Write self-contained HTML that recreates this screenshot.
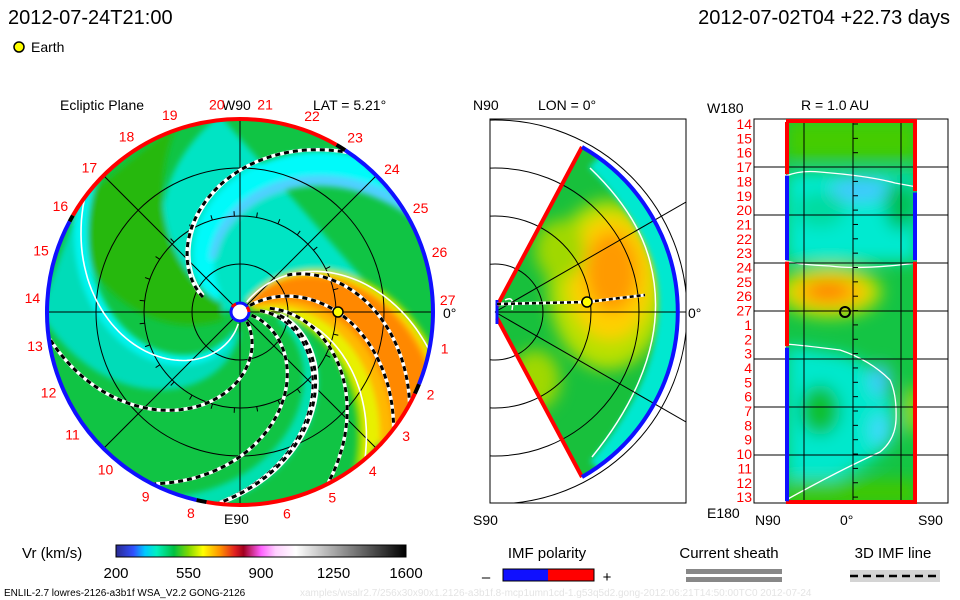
<!DOCTYPE html>
<html><head><meta charset="utf-8"><style>
html,body{margin:0;padding:0;background:#fff;}
svg{display:block;font-family:"Liberation Sans",sans-serif;}
</style></head><body>
<svg id="c" width="960" height="600" viewBox="0 0 960 600" xmlns="http://www.w3.org/2000/svg">
<defs>
 <filter id="bl" x="-20%" y="-20%" width="140%" height="140%"><feGaussianBlur stdDeviation="3"/></filter>
 <filter id="bl2" x="-50%" y="-50%" width="200%" height="200%"><feGaussianBlur stdDeviation="8"/></filter>
 <clipPath id="disc"><circle cx="240" cy="312" r="193"/></clipPath>
 <clipPath id="sector"><path d="M497,306 L582,147 A190,190 0 0 1 582,477 L497,318 Z"/></clipPath>
 <clipPath id="rbox"><rect x="786" y="122" width="131" height="381"/></clipPath>
 <clipPath id="mbox"><rect x="490" y="119" width="196" height="384"/></clipPath>
 <linearGradient id="cbar" x1="0" x2="1" y1="0" y2="0">
  <stop offset="0" stop-color="#2a2a90"/><stop offset="0.06" stop-color="#3050ff"/>
  <stop offset="0.1" stop-color="#00c8ff"/><stop offset="0.14" stop-color="#00f0c0"/>
  <stop offset="0.2" stop-color="#00c040"/><stop offset="0.25" stop-color="#80d800"/>
  <stop offset="0.3" stop-color="#ffff00"/><stop offset="0.36" stop-color="#ff9000"/>
  <stop offset="0.41" stop-color="#e02020"/><stop offset="0.44" stop-color="#a00020"/>
  <stop offset="0.5" stop-color="#ff60ff"/><stop offset="0.55" stop-color="#ffd0ff"/>
  <stop offset="0.62" stop-color="#ffffff"/><stop offset="1" stop-color="#000000"/>
 </linearGradient>
</defs>

<text x="8" y="24" font-size="20">2012-07-24T21:00</text>
<text x="950" y="24" font-size="20" text-anchor="end">2012-07-02T04 +22.73 days</text>
<circle cx="19" cy="47" r="5" fill="#ffff00" stroke="#000" stroke-width="1.5"/>
<text x="31" y="52" font-size="14">Earth</text>

<g id="left">
 <text x="60" y="110" font-size="14">Ecliptic Plane</text>
 <text x="313" y="110" font-size="14">LAT = 5.21°</text>
 <text x="222" y="110" font-size="14">W90</text>
 <text x="224" y="524" font-size="14">E90</text>
 <text x="443" y="318" font-size="14">0°</text>
 <g clip-path="url(#disc)">
  <circle cx="240" cy="312" r="193" fill="#10c444"/>
  <g id="bands" filter="url(#bl)"></g>
 </g>
 <g id="leftgrid" stroke="#000" stroke-width="1" fill="none"></g>
 <g id="leftlines"></g>
 <g id="ring"></g>
 <g id="leftlabels" font-size="14" fill="#ff0000" text-anchor="middle"></g>
 <circle cx="240" cy="312" r="9" fill="#fff" stroke="#1010ff" stroke-width="3"/>
 <path d="M232,307 A9,9 0 0 1 236,304" stroke="#f00" stroke-width="3" fill="none"/>
 <path d="M247,307 A9,9 0 0 1 249,312" stroke="#f00" stroke-width="3" fill="none"/>
 <circle cx="338" cy="312" r="5" fill="#ffff00" stroke="#000" stroke-width="1.5"/>
</g>

<g id="mid">
 <text x="473" y="110" font-size="14">N90</text>
 <text x="538" y="110" font-size="14">LON = 0°</text>
 <text x="473" y="525" font-size="14">S90</text>
 <text x="688" y="318" font-size="14">0°</text>
 <g clip-path="url(#sector)">
  <rect x="490" y="119" width="200" height="384" fill="#18c03c"/>
  <g filter="url(#bl2)">
   <ellipse cx="608" cy="285" rx="60" ry="85" fill="#b8e000"/>
   <ellipse cx="610" cy="278" rx="42" ry="62" fill="#ffd000"/>
   <ellipse cx="612" cy="272" rx="26" ry="40" fill="#ff9a00"/>
   <ellipse cx="560" cy="250" rx="25" ry="30" fill="#a0d800"/>
   <ellipse cx="535" cy="380" rx="25" ry="30" fill="#a0d800"/>
  </g>
 </g>
 <g clip-path="url(#sector)" fill="none">
  <g filter="url(#bl)">
  <path d="M598,158 Q650,210 666,262 Q676,300 668,340 Q656,405 600,470" stroke="#00e8d0" stroke-width="26"/>
  </g>
  <path d="M590,168 Q638,214 650,262 Q660,300 652,340 Q640,398 592,457" stroke="#fff" stroke-width="1.5"/>
  <path d="M505,300 Q515,295 512,310" stroke="#fff" stroke-width="1.5"/>
 </g>
 <g clip-path="url(#mbox)" stroke="#000" stroke-width="1" fill="none">
  <circle cx="495" cy="312" r="48"/><circle cx="495" cy="312" r="96"/>
  <circle cx="495" cy="312" r="144"/><circle cx="495" cy="312" r="192"/>
  <line x1="495" y1="312" x2="686" y2="312"/>
  <line x1="495" y1="312" x2="686" y2="202"/>
  <line x1="495" y1="312" x2="686" y2="422"/>
 </g>
 <path d="M497,306 L582,147" stroke="#ff0000" stroke-width="4"/>
 <path d="M497,318 L582,477" stroke="#ff0000" stroke-width="4"/>
 <path d="M582,147 A190,190 0 0 1 582,477" stroke="#1010ff" stroke-width="4" fill="none"/>
 <path d="M497,300 L497,324" stroke="#1010ff" stroke-width="3"/>
 <path d="M497,304 L587,302 L645,295" stroke="#fff" stroke-width="3" fill="none"/>
 <path d="M497,304 L587,302 L645,295" stroke="#000" stroke-width="2.5" stroke-dasharray="4,3" fill="none"/>
 <circle cx="587" cy="302" r="5" fill="#ffff00" stroke="#000" stroke-width="1.5"/>
 <rect x="490" y="119" width="196" height="384" fill="none" stroke="#000" stroke-width="1"/>
</g>

<g id="right">
 <text x="801" y="110" font-size="14">R = 1.0 AU</text>
 <text x="707" y="113" font-size="14">W180</text>
 <text x="707" y="518" font-size="14">E180</text>
 <text x="755" y="525" font-size="14">N90</text>
 <text x="840" y="525" font-size="14">0°</text>
 <text x="918" y="525" font-size="14">S90</text>
 <g clip-path="url(#rbox)">
  <rect x="786" y="119" width="131" height="384" fill="#14c444"/>
  <g filter="url(#bl2)">
   <rect x="786" y="172" width="131" height="90" fill="#00ead0"/>
   <ellipse cx="860" cy="190" rx="30" ry="12" fill="#40c8ff"/>
   <ellipse cx="900" cy="205" rx="15" ry="25" fill="#00c050"/>
   <ellipse cx="820" cy="210" rx="25" ry="18" fill="#00dca0"/>
   <rect x="786" y="120" width="131" height="40" fill="#44cc00"/>
   <ellipse cx="830" cy="292" rx="52" ry="26" fill="#b8e000"/>
   <ellipse cx="830" cy="292" rx="38" ry="16" fill="#ffc000"/>
   <ellipse cx="828" cy="291" rx="22" ry="9" fill="#ff8000"/>
   <path d="M786,345 L845,355 Q890,370 895,420 L893,440 Q870,470 786,500 Z" fill="#00e8cc"/>
   <ellipse cx="880" cy="380" rx="10" ry="16" fill="#40c8ff"/>
   <ellipse cx="880" cy="430" rx="10" ry="16" fill="#40d8ff"/>
   <ellipse cx="820" cy="410" rx="20" ry="25" fill="#10c030"/>
   <ellipse cx="912" cy="410" rx="6" ry="25" fill="#d0e000"/>
   <rect x="786" y="480" width="131" height="25" fill="#40c800"/>
  </g>
  <g fill="none" stroke="#fff" stroke-width="1.3">
   <path d="M786,176 Q800,170 820,172 Q870,176 895,183 L917,187"/>
   <path d="M786,261 Q800,265 830,266 Q860,270 917,263"/>
   <path d="M786,344 Q800,345 840,350 Q870,360 890,380 Q897,395 896,420 Q895,440 880,452 Q840,470 786,500"/>
  </g>
 </g>
 <g id="rgrid" stroke="#000" stroke-width="1" fill="none"></g>
 <g id="rlabels" font-size="14" fill="#ff0000" text-anchor="end"></g>
 <rect x="754" y="119" width="194" height="384" fill="none" stroke="#000" stroke-width="1"/>
 <g id="redges"></g>
 <circle cx="845" cy="312" r="5" fill="none" stroke="#000" stroke-width="2"/>
</g>

<g>
 <text x="22" y="558" font-size="15">Vr (km/s)</text>
 <rect x="116" y="545" width="290" height="12" fill="url(#cbar)" stroke="#000" stroke-width="1"/>
 <g id="cbticks" font-size="15" text-anchor="middle"></g>
 <text x="547" y="558" font-size="15" text-anchor="middle">IMF polarity</text>
 <text x="486" y="582" font-size="15" text-anchor="middle">–</text>
 <rect x="503" y="569" width="45" height="12" fill="#1010ff"/>
 <rect x="548" y="569" width="46" height="12" fill="#ff0000"/>
 <rect x="503" y="569" width="91" height="12" fill="none" stroke="#000"/>
 <text x="607" y="582" font-size="15" text-anchor="middle">+</text>
 <text x="729" y="558" font-size="15" text-anchor="middle">Current sheath</text>
 <rect x="686" y="569" width="96" height="5" fill="#888"/>
 <rect x="686" y="577" width="96" height="5" fill="#888"/>
 <text x="893" y="558" font-size="15" text-anchor="middle">3D IMF line</text>
 <rect x="850" y="570" width="90" height="12" fill="#d4d4d4"/>
 <line x1="850" y1="576" x2="940" y2="576" stroke="#000" stroke-width="2.5" stroke-dasharray="8,5"/>
 <text x="4" y="596" font-size="10">ENLIL-2.7 lowres-2126-a3b1f WSA_V2.2 GONG-2126</text>
 <text x="300" y="596" font-size="10" fill="#e4e4e4">xamples/wsalr2.7/256x30x90x1.2126-a3b1f.8-mcp1umn1cd-1.g53q5d2.gong-2012:06:21T14:50:00TC0    2012-07-24</text>
</g>
</svg>
<script>
const dayLabels = [1,2,3,4,5,6,8,9,10,11,12,13,14,15,16,17,18,19,20,21,22,23,24,25,26,27];
const rightLabels = [14,15,16,17,18,19,20,21,22,23,24,25,26,27,1,2,3,4,5,6,7,8,9,10,11,12,13];
const colorTicks = [200,550,900,1250,1600];
const ringStarts = [-150,-57,25,103];
const ringEnds   = [-60,22,100,208];
const ringPol    = ['+','-','+','-'];
const spiralA = [-38,-68,175,47,9,-15,-19,-20];
const spiralB = [0.39,0.5,0.67,0.65,0.56,0.58,0.6,0.43];
const spiralR0 = [12,60,40,12,12,20,40,30];
const spiralR1 = [193,193,193,193,193,193,193,193];
const sheetA = [-180,91,-60,-22,-14];
const sheetB = [0.64,0.65,0.37,0.61,0.33];
const sheetR0 = [40,12,12,40,60];
const leftEdgeStarts = [0,3.8,9.9,16];
const leftEdgeEnds = [3.7,9.8,15.9,26.9];
const leftEdgePol = ['+','-','+','-'];
const rightEdgeStarts = [0,5,9.9];
const rightEdgeEnds = [4.9,9.8,26.9];
const rightEdgePol = ['+','-','+'];

const NS='http://www.w3.org/2000/svg';
const CX=240, CY=312, R=193;
function mk(tag,attrs,parent){const e=document.createElementNS(NS,tag);for(const k in attrs)e.setAttribute(k,attrs[k]);parent.appendChild(e);return e;}
function pol(r,deg){const t=deg*Math.PI/180;return [CX+r*Math.cos(t),CY+r*Math.sin(t)];}

const bands=[
 [-185,0.45,-60,0.37,10,'#00e4c4'],
 [-175,0.62,-152,0.62,25,'#00fafa'],
 [-158,0.62,-150,0.62,60,'#50d0ff'],
 [150,0.3,200,0.26,20,'#28b810'],
 [80,0.5,100,0.6,20,'#00dcb8'],
 [86,0.65,96,0.65,30,'#00f4f0'],
 [-62,0.37,-8,0.32,12,'#90dc00'],
 [-60,0.37,-11,0.32,14,'#e8f000'],
 [-58,0.37,-22,0.34,14,'#ffb800'],
 [-56,0.37,-30,0.35,14,'#ff8800'],
 [-22,0.61,-10,0.61,40,'#00e0b0']
];
const bg=document.getElementById('bands');
bands.forEach(b=>{
 const pts=[];
 for(let r=b[4];r<=200;r+=4)pts.push(pol(r,b[0]+b[1]*r));
 for(let r=200;r>=b[4];r-=4)pts.push(pol(r,b[2]+b[3]*r));
 const p=mk('polygon',{points:pts.map(q=>q.join(',')).join(' '),fill:b[5]},bg);
 
 
});

const lg=document.getElementById('leftgrid');
[48,96,144].forEach(r=>mk('circle',{cx:CX,cy:CY,r:r},lg));
[0,45,90,135].forEach(d=>{const a=pol(R,d),b=pol(R,d+180);mk('line',{x1:a[0],y1:a[1],x2:b[0],y2:b[1]},lg);});
for(let d=0;d<360;d+=13.33){const a=pol(96,d),b=pol(101,d);mk('line',{x1:a[0],y1:a[1],x2:b[0],y2:b[1]},lg);}

const ll=document.getElementById('leftlines');
function spiralPath(a,b,r0,r1){let s='';for(let r=r0;r<=r1;r+=3){const p=pol(r,a+b*r);s+=(s?'L':'M')+p[0].toFixed(1)+','+p[1].toFixed(1);}return s;}
for(let i=0;i<sheetA.length;i++){
 const p=mk('path',{d:spiralPath(sheetA[i],sheetB[i],sheetR0[i],193),stroke:'#fff','stroke-width':1.6,fill:'none'},ll);
 
 
}
for(let i=0;i<spiralA.length;i++){
 const d=spiralPath(spiralA[i],spiralB[i],spiralR0[i],spiralR1[i]);
 mk('path',{d:d,stroke:'#fff','stroke-width':3.5,fill:'none'},ll);
 const p=mk('path',{d:d,stroke:'#000','stroke-width':3,fill:'none','stroke-dasharray':'5,4'},ll);
 
 
}

const rg=document.getElementById('ring');
for(let i=0;i<ringStarts.length;i++){
 const a=pol(R,ringStarts[i]),b=pol(R,ringEnds[i]);
 const large=(ringEnds[i]-ringStarts[i])>180?1:0;
 const p=mk('path',{d:`M${a[0]},${a[1]} A${R},${R} 0 ${large} 1 ${b[0]},${b[1]}`,stroke:ringPol[i]==='+'?'#ff0000':'#1010ff','stroke-width':4,fill:'none'},rg);
 
 
}
for(let i=0;i<ringStarts.length;i++){
 const e=ringEnds[i], s=ringStarts[(i+1)%ringStarts.length]+(i===3?360:0);
 const a=pol(R,e),b=pol(R,s);
 mk('path',{d:`M${a[0]},${a[1]} A${R},${R} 0 0 1 ${b[0]},${b[1]}`,stroke:'#000','stroke-width':4,fill:'none'},rg);
}

const lb=document.getElementById('leftlabels');
dayLabels.forEach(n=>{
 const ang=(n%27)*13.33-3;
 const p=pol(208,ang);
 const t=mk('text',{x:p[0].toFixed(1),y:(p[1]+4).toFixed(1)},lb);
 t.textContent=n;
 
 
});

const rgd=document.getElementById('rgrid');
[804,853,901].forEach(x=>mk('line',{x1:x,y1:119,x2:x,y2:503},rgd));
for(let i=1;i<=7;i++){const y=119+i*48;mk('line',{x1:754,y1:y,x2:948,y2:y},rgd);}
for(let i=0;i<27;i++){const y=124+i*14.35;mk('line',{x1:853,y1:y,x2:858,y2:y},rgd);}
const rl=document.getElementById('rlabels');
rightLabels.forEach((n,i)=>{
 const t=mk('text',{x:752,y:(129+i*14.35).toFixed(1)},rl);
 t.textContent=n;
 
 
});
const re=document.getElementById('redges');
function yRow(v){return 122+v*14.1;}
mk('line',{x1:786,y1:121,x2:917,y2:121,stroke:'#ff0000','stroke-width':4},re);
mk('line',{x1:786,y1:502,x2:917,y2:502,stroke:'#ff0000','stroke-width':4},re);
for(let i=0;i<leftEdgeStarts.length;i++){
 const l=mk('line',{x1:787,y1:yRow(leftEdgeStarts[i]),x2:787,y2:yRow(leftEdgeEnds[i]),stroke:leftEdgePol[i]==='+'?'#ff0000':'#1010ff','stroke-width':4},re);
 
 
}
for(let i=0;i<rightEdgeStarts.length;i++){
 const l=mk('line',{x1:915,y1:yRow(rightEdgeStarts[i]),x2:915,y2:yRow(rightEdgeEnds[i]),stroke:rightEdgePol[i]==='+'?'#ff0000':'#1010ff','stroke-width':4},re);
 
 
}

const ct=document.getElementById('cbticks');
colorTicks.forEach(v=>{
 const x=116+(v-200)/(1400)*290;
 const t=mk('text',{x:x.toFixed(1),y:578},ct);
 t.textContent=v;
 
 
});
</script>
</body></html>
